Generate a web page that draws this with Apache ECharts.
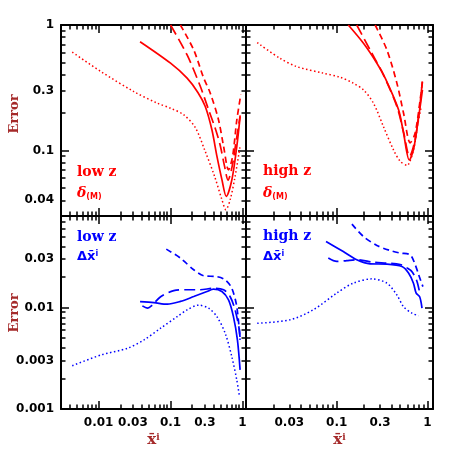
<!DOCTYPE html>
<html><head><meta charset="utf-8">
<script src="https://cdn.jsdelivr.net/npm/echarts@6/dist/echarts.min.js"></script>
<style>html,body{margin:0;padding:0;background:#fff}#c{width:458px;height:458px}</style>
</head><body><div id="c"></div>
<script>
// ---------- data (x, error) ----------
// top-left: low z, delta(M)
const tlSolid  = [[0.0377,0.736],[0.1,0.496],[0.17,0.377],[0.24,0.29],[0.304,0.224],[0.376,0.146],[0.442,0.0896],[0.518,0.0585],[0.595,0.043],[0.713,0.0585],[0.835,0.108],[0.927,0.186]];
const tlLong   = [[0.1,1.0],[0.17,0.577],[0.26,0.323],[0.338,0.211],[0.418,0.15],[0.49,0.11],[0.563,0.075],[0.63,0.058],[0.72,0.075],[0.82,0.12],[0.93,0.19]];
const tlShort  = [[0.137,1.0],[0.21,0.633],[0.288,0.38],[0.357,0.286],[0.465,0.175],[0.546,0.108],[0.64,0.070],[0.73,0.09],[0.835,0.175],[0.95,0.28]];
const tlDotted = [[0.0043,0.607],[0.0108,0.425],[0.031,0.294],[0.0655,0.238],[0.1,0.217],[0.153,0.192],[0.221,0.152],[0.30,0.10],[0.41,0.062],[0.518,0.0405],[0.588,0.0337],[0.675,0.0405],[0.79,0.062],[0.927,0.108]];
// top-right: high z, delta(M)
const trSolid  = [[0.134,1.0],[0.197,0.715],[0.277,0.496],[0.342,0.377],[0.48,0.211],[0.545,0.137],[0.63,0.084],[0.70,0.101],[0.80,0.186],[0.88,0.304]];
const trLong   = [[0.166,1.0],[0.233,0.633],[0.327,0.40],[0.46,0.224],[0.545,0.14],[0.634,0.0896],[0.73,0.122],[0.83,0.238],[0.88,0.365]];
const trShort  = [[0.265,1.0],[0.357,0.633],[0.46,0.344],[0.545,0.198],[0.645,0.115],[0.73,0.137],[0.83,0.253],[0.89,0.377]];
const trDotted = [[0.0133,0.723],[0.0236,0.543],[0.0362,0.466],[0.071,0.413],[0.109,0.383],[0.152,0.344],[0.197,0.304],[0.254,0.238],[0.327,0.155],[0.422,0.101],[0.50,0.082],[0.593,0.076],[0.70,0.101],[0.78,0.16],[0.85,0.22]];
// bottom-left: low z, delta xbar
const blSolid  = [[0.0377,0.01146],[0.0588,0.0112],[0.09,0.0108],[0.137,0.0115],[0.21,0.01284],[0.321,0.0144],[0.396,0.0152],[0.518,0.0144],[0.64,0.0119],[0.749,0.00815],[0.851,0.0048],[0.927,0.00243]];
const blLong   = [[0.0406,0.0104],[0.0477,0.0099],[0.0558,0.0106],[0.0728,0.0128],[0.111,0.0147],[0.17,0.015],[0.26,0.015],[0.396,0.0155],[0.546,0.015],[0.675,0.0128],[0.79,0.0095],[0.906,0.006],[0.927,0.0048]];
const blShort  = [[0.0873,0.0377],[0.137,0.0308],[0.21,0.0236],[0.288,0.0206],[0.441,0.0202],[0.575,0.0188],[0.711,0.0155],[0.834,0.0102],[0.927,0.0048]];
const blDotted = [[0.0043,0.00267],[0.0108,0.00341],[0.0252,0.00397],[0.0428,0.0048],[0.0728,0.00626],[0.124,0.00815],[0.17,0.0095],[0.246,0.01057],[0.338,0.00986],[0.441,0.00815],[0.575,0.00559],[0.711,0.00328],[0.834,0.00193],[0.906,0.00135]];
// bottom-right: high z, delta xbar
const brSolid  = [[0.0762,0.0449],[0.118,0.0357],[0.166,0.0296],[0.233,0.027],[0.357,0.0268],[0.523,0.0254],[0.618,0.0219],[0.70,0.0174],[0.75,0.0139],[0.82,0.0128],[0.87,0.0099]];
const brLong   = [[0.0807,0.0308],[0.1,0.0285],[0.129,0.0291],[0.166,0.0296],[0.254,0.028],[0.357,0.0274],[0.50,0.0266],[0.60,0.0245],[0.675,0.0226],[0.766,0.0181],[0.83,0.0133]];
const brShort  = [[0.147,0.0665],[0.197,0.0502],[0.277,0.041],[0.388,0.0365],[0.50,0.0345],[0.645,0.0331],[0.733,0.0264],[0.80,0.021],[0.89,0.0161]];
const brDotted = [[0.0133,0.0070],[0.0305,0.00757],[0.055,0.0095],[0.1,0.0139],[0.152,0.0174],[0.244,0.0192],[0.357,0.0174],[0.46,0.0133],[0.545,0.0102],[0.675,0.0088],[0.80,0.0083]];

// ---------- tick labels ----------
const topYLabels = [1, 0.3, 0.1, 0.04];
const botYLabels = [0.03, 0.01, 0.003, 0.001];
const leftXLabels = [0.01, 0.03, 0.1, 0.3, 1];
const rightXLabels = [0.03, 0.1, 0.3, 1];
const decades = [0.001, 0.01, 0.1, 1];

function allTicksIn(ext) {
  const out = [];
  decades.forEach(d => { for (let k = 1; k <= 9; k++) { const v = +(d * k).toPrecision(3); if (v >= ext[0] * 0.999 && v <= ext[1] * 1.001) out.push(v); } });
  return out;
}
function majorsIn(ext) { return decades.filter(v => v >= ext[0] * 0.999 && v <= ext[1] * 1.001); }

const RED = '#ff0000', BLUE = '#0000ff', BROWN = '#a52a2a';
const panels = [
  { grid: { left: 61, top: 25, width: 185, height: 191 }, x: [0.003, 1.12], y: [0.03, 1], color: RED, sets: [tlSolid, tlLong, tlShort, tlDotted], xl: null, yl: topYLabels },
  { grid: { left: 246, top: 25, width: 187, height: 191 }, x: [0.01, 1.15], y: [0.03, 1], color: RED, sets: [trSolid, trLong, trShort, trDotted], xl: null, yl: null },
  { grid: { left: 61, top: 216, width: 185, height: 193 }, x: [0.003, 1.12], y: [0.001, 0.08], color: BLUE, sets: [blSolid, blLong, blShort, blDotted], xl: leftXLabels, yl: botYLabels },
  { grid: { left: 246, top: 216, width: 187, height: 193 }, x: [0.01, 1.15], y: [0.001, 0.08], color: BLUE, sets: [brSolid, brLong, brShort, brDotted], xl: rightXLabels, yl: null }
];
const styles = [
  { type: 'solid', width: 1.7 },
  { type: [11, 5], width: 1.7 },
  { type: [6, 4], width: 1.7 },
  { type: [1.5, 2.5], width: 1.5 }
];
const fmt = v => String(+(+v).toPrecision(4));
const labelStyle = { color: '#000', fontFamily: 'DejaVu Sans', fontWeight: 'bold', fontSize: 12 };

// main axis: frame line + all (short) ticks + labels; extra axis: long decade ticks
function mkAxis(dim, gi, pos, main, ext, labels, name) {
  const a = {
    type: 'log', logBase: 10, gridIndex: gi, position: pos, min: ext[0], max: ext[1],
    axisLine: { show: main, onZero: false, lineStyle: { color: '#000', width: 2 } },
    axisTick: { show: true, inside: true, length: main ? 4.5 : 8, customValues: main ? allTicksIn(ext) : majorsIn(ext), lineStyle: { color: '#000', width: 1.5 } },
    axisLabel: { show: false },
    splitLine: { show: false }, minorTick: { show: false }, minorSplitLine: { show: false },
    silent: true
  };
  if (labels) {
    a.axisLabel = Object.assign({ show: true, customValues: labels, formatter: fmt, margin: dim === 'x' ? 8 : 7 }, labelStyle);
  }
  if (name) {
    a.name = name.text; a.nameLocation = 'middle'; a.nameGap = name.gap;
    a.nameTextStyle = name.style;
  }
  return a;
}

const xAxes = [], yAxes = [], series = [], grids = [];
const xName = {
  text: '{b|x\u0304}{c|i}', gap: 24,
  style: { rich: {
    b: { color: BROWN, fontFamily: 'DejaVu Serif', fontWeight: 'bold', fontSize: 15 },
    c: { color: BROWN, fontFamily: 'DejaVu Serif', fontWeight: 'bold', fontSize: 9, verticalAlign: 'top', padding: [0, 0, 6, 0] }
  } }
};
panels.forEach((p, gi) => {
  grids.push(Object.assign({ containLabel: false }, p.grid));
  const xi = xAxes.length, yi = yAxes.length;
  xAxes.push(mkAxis('x', gi, 'bottom', true, p.x, p.xl, p.xl ? xName : null));
  xAxes.push(mkAxis('x', gi, 'bottom', false, p.x, null));
  xAxes.push(mkAxis('x', gi, 'top', true, p.x, null));
  xAxes.push(mkAxis('x', gi, 'top', false, p.x, null));
  yAxes.push(mkAxis('y', gi, 'left', true, p.y, p.yl));
  yAxes.push(mkAxis('y', gi, 'left', false, p.y, null));
  yAxes.push(mkAxis('y', gi, 'right', true, p.y, null));
  yAxes.push(mkAxis('y', gi, 'right', false, p.y, null));
  p.sets.forEach((d, k) => {
    series.push({
      type: 'line', xAxisIndex: xi, yAxisIndex: yi, data: d,
      symbol: 'none', showSymbol: false, smooth: 0.3, clip: true, silent: true,
      lineStyle: { color: p.color, width: styles[k].width, type: styles[k].type }
    });
  });
});

const serifBold = (size, color) => ({ fontFamily: 'DejaVu Serif', fontWeight: 'bold', fontSize: size, fill: color });
function deltaM(x, y, color) {
  return { type: 'text', x: x, y: y, silent: true, style: {
    text: '{a|\u03b4}{b|(M)}', verticalAlign: 'middle', align: 'left',
    rich: {
      a: { fontFamily: 'DejaVu Serif', fontWeight: 'bold', fontStyle: 'italic', fontSize: 14, fill: color, lineHeight: 16 },
      b: { fontFamily: 'DejaVu Sans', fontWeight: 'bold', fontSize: 8, fill: color, verticalAlign: 'bottom', lineHeight: 10, padding: [6, 0, 0, 0] }
    } } };
}
function deltaX(x, y, color) {
  return { type: 'text', x: x, y: y, silent: true, style: {
    text: '{a|\u0394x\u0304}{c|i}', verticalAlign: 'middle', align: 'left',
    rich: {
      a: { fontFamily: 'DejaVu Sans', fontWeight: 'bold', fontSize: 13, fill: color },
      c: { fontFamily: 'DejaVu Sans', fontWeight: 'bold', fontSize: 8, fill: color, verticalAlign: 'top', padding: [0, 0, 6, 0] }
    } } };
}
const graphic = [
  { type: 'text', x: 15, y: 114, rotation: Math.PI / 2, silent: true, style: Object.assign({ text: 'Error', align: 'center', verticalAlign: 'middle' }, serifBold(13, BROWN)) },
  { type: 'text', x: 15, y: 313, rotation: Math.PI / 2, silent: true, style: Object.assign({ text: 'Error', align: 'center', verticalAlign: 'middle' }, serifBold(13, BROWN)) },
  { type: 'text', x: 77, y: 172, silent: true, style: Object.assign({ text: 'low z', align: 'left', verticalAlign: 'middle' }, serifBold(14, RED)) },
  deltaM(77, 193, RED),
  { type: 'text', x: 263, y: 171, silent: true, style: Object.assign({ text: 'high z', align: 'left', verticalAlign: 'middle' }, serifBold(14, RED)) },
  deltaM(263, 193, RED),
  { type: 'text', x: 77, y: 237, silent: true, style: Object.assign({ text: 'low z', align: 'left', verticalAlign: 'middle' }, serifBold(14, BLUE)) },
  deltaX(77, 257, BLUE),
  { type: 'text', x: 263, y: 236, silent: true, style: Object.assign({ text: 'high z', align: 'left', verticalAlign: 'middle' }, serifBold(14, BLUE)) },
  deltaX(263, 257, BLUE)
];

const chart = echarts.init(document.getElementById('c'), null, { renderer: 'canvas' });
chart.setOption({
  animation: false,
  backgroundColor: '#fff',
  grid: grids,
  xAxis: xAxes,
  yAxis: yAxes,
  series: series,
  graphic: graphic
});
</script></body></html>
